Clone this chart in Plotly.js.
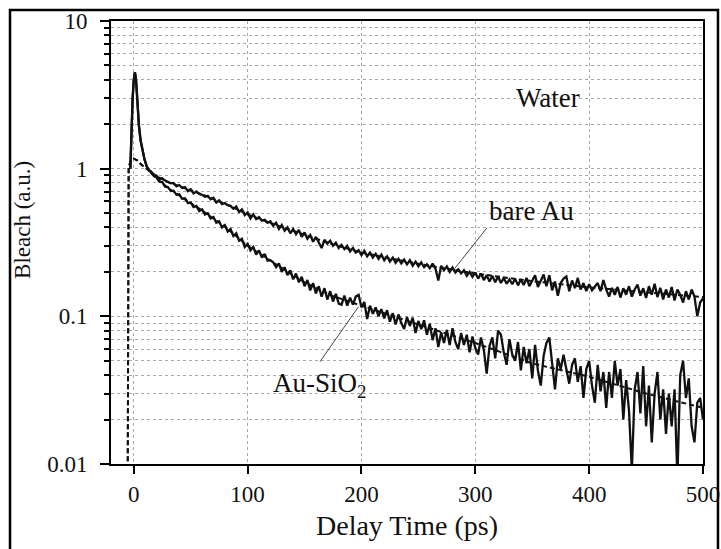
<!DOCTYPE html>
<html><head><meta charset="utf-8">
<script src="https://cdn.plot.ly/plotly-3.0.1.min.js"></script>
<style>html,body{margin:0;padding:0;background:#fff}</style>
</head><body><div id="chart" style="width:721px;height:549px"></div>
<script>
// ---- data ----
const riseT = [-3,-2,-1,0,1,2,3,4.5,6,7.6,9.5,11.5,13.5];
const riseV = [1.0,1.9,3.0,4.0,4.5,4.0,2.9,1.97,1.55,1.33,1.15,1.03,0.97];

const delay = [15,17.5,20,22.5,25,27.5,30,32.5,35,37.5,40,42.5,45,47.5,50,52.5,55,57.5,60,62.5,65,67.5,70,72.5,75,77.5,80,82.5,85,87.5,90,92.5,95,97.5,100,102.5,105,107.5,110,112.5,115,117.5,120,122.5,125,127.5,130,132.5,135,137.5,140,142.5,145,147.5,150,152.5,155,157.5,160,162.5,165,167.5,170,172.5,175,177.5,180,182.5,185,187.5,190,192.5,195,197.5,200,202.5,205,207.5,210,212.5,215,217.5,220,222.5,225,227.5,230,232.5,235,237.5,240,242.5,245,247.5,250,252.5,255,257.5,260,262.5,265,267.5,270,272.5,275,277.5,280,282.5,285,287.5,290,292.5,295,297.5,300,302.5,305,307.5,310,312.5,315,317.5,320,322.5,325,327.5,330,332.5,335,337.5,340,342.5,345,347.5,350,352.5,355,357.5,360,362.5,365,367.5,370,372.5,375,377.5,380,382.5,385,387.5,390,392.5,395,397.5,400,402.5,405,407.5,410,412.5,415,417.5,420,422.5,425,427.5,430,432.5,435,437.5,440,442.5,445,447.5,450,452.5,455,457.5,460,462.5,465,467.5,470,472.5,475,477.5,480,482.5,485,487.5,490,492.5,495,497.5,500];

const bareAu = [0.96,0.91,0.895,0.85,0.86,0.83,0.815,0.795,0.80,0.76,
0.775,0.74,0.75,0.705,0.725,0.68,0.70,0.675,0.665,0.645,
0.655,0.62,0.635,0.59,0.61,0.575,0.585,0.565,0.56,0.535,
0.555,0.51,0.53,0.485,0.505,0.46,0.49,0.455,0.47,0.445,
0.45,0.43,0.44,0.41,0.43,0.39,0.415,0.38,0.40,0.365,
0.39,0.36,0.385,0.345,0.37,0.335,0.355,0.32,0.345,0.315,
0.29,0.33,0.31,0.325,0.30,0.315,0.29,0.305,0.285,0.30,
0.275,0.29,0.27,0.28,0.26,0.278,0.255,0.27,0.25,0.265,
0.245,0.262,0.24,0.255,0.235,0.25,0.23,0.245,0.228,0.242,
0.225,0.24,0.22,0.235,0.218,0.232,0.215,0.225,0.212,0.228,
0.21,0.175,0.22,0.205,0.218,0.2,0.214,0.198,0.208,0.195,
0.205,0.188,0.2,0.185,0.198,0.18,0.195,0.176,0.19,0.172,
0.188,0.17,0.186,0.168,0.182,0.166,0.178,0.165,0.18,0.162,
0.178,0.163,0.182,0.16,0.176,0.19,0.158,0.174,0.192,0.16,
0.19,0.15,0.172,0.138,0.168,0.18,0.186,0.148,0.175,0.155,
0.182,0.152,0.168,0.148,0.165,0.15,0.16,0.168,0.148,0.176,
0.152,0.136,0.156,0.14,0.158,0.134,0.155,0.14,0.16,0.136,
0.152,0.164,0.138,0.155,0.133,0.16,0.14,0.166,0.135,0.156,
0.13,0.152,0.134,0.158,0.128,0.152,0.14,0.124,0.148,0.13,
0.152,0.136,0.1,0.124,0.132];

const auSiO2 = [0.94,0.895,0.87,0.815,0.81,0.755,0.75,0.705,0.71,0.665,
0.67,0.625,0.63,0.585,0.59,0.55,0.56,0.515,0.53,0.49,
0.50,0.46,0.47,0.43,0.44,0.40,0.415,0.375,0.39,0.35,
0.365,0.325,0.335,0.295,0.31,0.28,0.295,0.262,0.28,0.25,
0.265,0.238,0.24,0.232,0.215,0.228,0.2,0.215,0.19,0.205,
0.178,0.195,0.17,0.185,0.16,0.176,0.15,0.168,0.143,0.16,
0.136,0.155,0.13,0.148,0.126,0.142,0.122,0.12,0.138,0.118,
0.134,0.12,0.136,0.14,0.115,0.125,0.096,0.118,0.104,0.115,
0.1,0.112,0.097,0.11,0.092,0.105,0.088,0.103,0.09,0.082,
0.099,0.086,0.098,0.077,0.093,0.082,0.094,0.075,0.089,0.069,
0.083,0.062,0.078,0.066,0.081,0.064,0.083,0.067,0.06,0.077,
0.064,0.075,0.057,0.073,0.061,0.055,0.072,0.059,0.041,0.063,
0.072,0.052,0.08,0.075,0.057,0.047,0.07,0.055,0.05,0.067,
0.043,0.062,0.048,0.06,0.038,0.064,0.043,0.034,0.054,0.066,
0.072,0.048,0.032,0.052,0.044,0.055,0.045,0.035,0.047,0.052,
0.036,0.046,0.028,0.044,0.05,0.034,0.026,0.047,0.031,0.042,
0.024,0.042,0.028,0.05,0.034,0.044,0.02,0.037,0.023,0.009,
0.032,0.042,0.022,0.046,0.018,0.034,0.014,0.03,0.042,0.02,
0.032,0.016,0.03,0.018,0.032,0.008,0.04,0.05,0.028,0.038,
0.018,0.014,0.026,0.028,0.02];

const fitT = [-5.5,-4.5,-3,-1,0,3,7,12,20,30,45,60,80,100,125,150,175,200,250,300,350,400,450,500];
const fitBareAu = [0.003,1.0,1.12,1.16,1.17,1.14,1.06,0.99,0.89,0.81,0.735,0.67,0.58,0.49,0.415,0.355,0.307,0.27,0.227,0.195,0.173,0.157,0.145,0.135];
const fitAuSiO2 = [0.003,1.0,1.12,1.16,1.17,1.14,1.06,0.99,0.86,0.74,0.62,0.52,0.405,0.30,0.225,0.17,0.137,0.118,0.088,0.066,0.048,0.039,0.030,0.024];

// ---- chart ----
const serif = 'Liberation Serif, Times New Roman, serif';
const ink = '#111';

const traces = [
  {x: riseT.concat(delay), y: riseV.concat(bareAu), mode:'lines', line:{color:ink, width:2.3}, name:'bare Au'},
  {x: riseT.concat(delay), y: riseV.concat(auSiO2), mode:'lines', line:{color:ink, width:2.3}, name:'Au-SiO2'},
  {x: fitT, y: fitBareAu, mode:'lines', line:{color:ink, width:2, dash:'5px,3px'}, name:'fit bare Au'},
  {x: fitT, y: fitAuSiO2, mode:'lines', line:{color:ink, width:2, dash:'5px,3px'}, name:'fit Au-SiO2'}
];

const grid = {showgrid:true, gridcolor:'#a8a8a8', griddash:'dot', gridwidth:1};

const layout = {
  width:721, height:549,
  margin:{l:111, r:18, t:21, b:85},
  paper_bgcolor:'#fff', plot_bgcolor:'#fff',
  showlegend:false,
  font:{family:serif, color:ink, size:22},
  xaxis: Object.assign({
    range:[-20,500], tick0:0, dtick:100,
    ticks:'outside', ticklen:8, tickwidth:2, tickcolor:'#000',
    showline:true, linewidth:2, linecolor:'#000', mirror:true,
    zeroline:false, tickfont:{size:23, family:serif},
    ticklabelstandoff:0,
    title:{text:'Delay Time (ps)', font:{size:28, family:serif}, standoff:10}
  }, grid),
  yaxis: Object.assign({
    type:'log', range:[-2,1], dtick:1,
    ticks:'outside', ticklen:9, tickwidth:2, tickcolor:'#000',
    showline:true, linewidth:2, linecolor:'#000', mirror:true,
    zeroline:false, tickfont:{size:23, family:serif},
    ticklabelstandoff:8,
    minor: Object.assign({ticks:'outside', ticklen:5, tickwidth:2, tickcolor:'#000'}, grid)
  }, grid),
  annotations:[
    {xref:'paper', yref:'paper', x:-0.1486, y:0.551, text:'Bleach (a.u.)', textangle:-90, showarrow:false, xanchor:'center', yanchor:'middle', font:{size:23, family:serif, color:ink}},
    {xref:'paper', yref:'paper', x:0.738, y:0.826, text:'Water', showarrow:false, xanchor:'center', yanchor:'middle', font:{size:27, family:serif, color:ink}},
    {xref:'paper', yref:'paper', x:0.711, y:0.571, text:'bare Au', showarrow:false, xanchor:'center', yanchor:'middle', font:{size:27, family:serif, color:ink}},
    {xref:'paper', yref:'paper', x:0.353, y:0.178, text:'Au-SiO<sub>2</sub>', showarrow:false, xanchor:'center', yanchor:'middle', font:{size:27, family:serif, color:ink}}
  ],
  shapes:[
    {type:'line', xref:'paper', yref:'paper', x0:0.635, y0:0.533, x1:0.581, y1:0.442, line:{color:'#444', width:1}},
    {type:'line', xref:'paper', yref:'paper', x0:0.353, y0:0.231, x1:0.418, y1:0.355, line:{color:'#444', width:1}},
    {type:'rect', xref:'paper', yref:'paper', x0:-0.1706, x1:1.0253, y0:-0.6, y1:1.0248, line:{color:'#000', width:2.5}, layer:'above'}
  ]
};

Plotly.newPlot('chart', traces, layout, {displayModeBar:false, staticPlot:true});
</script></body></html>
